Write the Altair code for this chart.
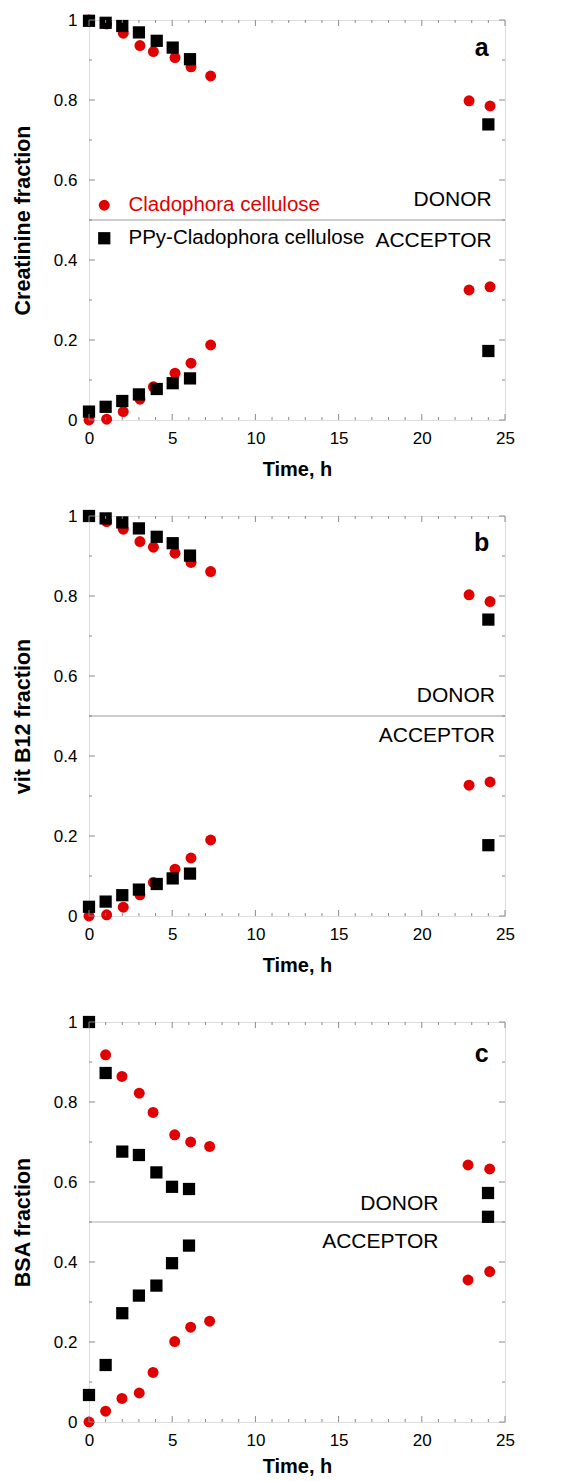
import altair as alt
import pandas as pd

# ---------------- data ----------------
series_names = ["Cladophora cellulose", "PPy-Cladophora cellulose"]
colors = ["#e00000", "#000000"]
shapes = ["circle", "square"]

# Panel a: Creatinine
a_t_red = [0, 1.06, 2.06, 3.06, 3.87, 5.17, 6.13, 7.31, 22.84, 24.1]
a_donor_red = [1.0, 0.99, 0.967, 0.936, 0.921, 0.906, 0.883, 0.86, 0.798, 0.785]
a_acc_red = [0.0, 0.002, 0.021, 0.052, 0.083, 0.117, 0.142, 0.1875, 0.325, 0.333]
a_t_blk = [0, 1, 2, 3, 4.07, 5.03, 6.07, 24.0]
a_donor_blk = [0.998, 0.993, 0.985, 0.969, 0.948, 0.931, 0.902, 0.739]
a_acc_blk = [0.021, 0.033, 0.0475, 0.064, 0.0775, 0.092, 0.104, 0.1725]

# Panel b: vit B12
b_t_red = [0, 1.06, 2.06, 3.06, 3.87, 5.17, 6.13, 7.31, 22.84, 24.1]
b_donor_red = [1.0, 0.986, 0.967, 0.936, 0.922, 0.907, 0.884, 0.861, 0.803, 0.786]
b_acc_red = [0.0, 0.003, 0.022, 0.053, 0.084, 0.117, 0.145, 0.19, 0.327, 0.335]
b_t_blk = [0, 1, 2, 3, 4.07, 5.03, 6.07, 24.0]
b_donor_blk = [1.0, 0.994, 0.984, 0.969, 0.948, 0.932, 0.901, 0.741]
b_acc_blk = [0.023, 0.036, 0.052, 0.066, 0.08, 0.094, 0.106, 0.177]

# Panel c: BSA
c_t_red = [0, 1.0, 1.98, 3.02, 3.85, 5.15, 6.11, 7.25, 22.78, 24.08]
c_donor_red = [1.0, 0.918, 0.864, 0.822, 0.774, 0.718, 0.70, 0.689, 0.6425, 0.6325]
c_acc_red = [0.0, 0.027, 0.059, 0.0725, 0.124, 0.201, 0.237, 0.252, 0.355, 0.376]
c_t_blk = [0, 1, 2, 3, 4.05, 4.99, 6.01, 23.98]
c_donor_blk = [1.0, 0.8725, 0.676, 0.6675, 0.624, 0.588, 0.5825, 0.5725]
c_acc_blk = [0.0675, 0.1425, 0.272, 0.316, 0.341, 0.397, 0.441, 0.513]

y_titles = ["Creatinine fraction", "vit B12 fraction", "BSA fraction"]
panel_letters = ["a", "b", "c"]
x_title = "Time, h"

x_major = [0, 5, 10, 15, 20, 25]
x_minor = [v for v in range(1, 25) if v % 5 != 0]
y_major = [0, 0.2, 0.4, 0.6, 0.8, 1]
y_minor = [0.1, 0.3, 0.5, 0.7, 0.9]
boundary = [0.5]

zone_labels = ["DONOR", "ACCEPTOR"]
# annotation anchors in data coordinates (time, fraction)
zone_t = [24.2, 24.4, 21.0]
zone_y_donor = [0.55, 0.549, 0.545]
zone_y_acc = [0.448, 0.449, 0.45]
letter_t = [23.6, 23.6, 23.6]
letter_y = [0.93, 0.933, 0.92]

FONT = "Liberation Sans"
W, H = 416, 400
FRAME = "#8a8a8a"
X_TITLE_PAD = [13, 13, 8]


def make_df(t_red, d_red, a_red, t_blk, d_blk, a_blk):
    rows = []
    for t, v in zip(t_red, d_red):
        rows.append({"t": t, "y": v, "series": series_names[0], "o": 0})
    for t, v in zip(t_red, a_red):
        rows.append({"t": t, "y": v, "series": series_names[0], "o": 0})
    for t, v in zip(t_blk, d_blk):
        rows.append({"t": t, "y": v, "series": series_names[1], "o": 1})
    for t, v in zip(t_blk, a_blk):
        rows.append({"t": t, "y": v, "series": series_names[1], "o": 1})
    return pd.DataFrame(rows)


xs = alt.Scale(domain=[0, 25], nice=False, zero=False)
ys = alt.Scale(domain=[0, 1], nice=False, zero=False)


def x_axis(i):
    return alt.Axis(values=x_major, format="d", grid=False, ticks=False, tickSize=0,
                    domain=False, labelFlush=False, labelFont=FONT, labelFontSize=17,
                    labelColor="#000", labelPadding=10, titleFont=FONT, titleFontSize=20,
                    titleFontWeight="bold", titleColor="#000", titlePadding=X_TITLE_PAD[i])


def y_axis():
    return alt.Axis(values=y_major, format="~g", grid=False, ticks=False, tickSize=0,
                    domain=False, labelFlush=False, labelFont=FONT, labelFontSize=17,
                    labelColor="#000", labelPadding=12, titleFont=FONT, titleFontSize=21.5,
                    titleFontWeight="bold", titleColor="#000", titlePadding=19)


def X(field, i):
    return alt.X(field, type="quantitative", scale=xs, title=x_title, axis=x_axis(i))


def Y(field, i):
    return alt.Y(field, type="quantitative", scale=ys, title=y_titles[i], axis=y_axis())


def tick_layers(i):
    layers = []
    for vals, ln in ((x_major, 6), (x_minor, 3)):
        d = pd.DataFrame({"t": vals})
        layers.append(alt.Chart(d).mark_rule(color=FRAME, strokeWidth=1).encode(
            x=X("t", i), y=alt.value(H), y2=alt.value(H - ln)))
        layers.append(alt.Chart(d).mark_rule(color=FRAME, strokeWidth=1).encode(
            x=X("t", i), y=alt.value(0), y2=alt.value(ln)))
    for vals, ln in ((y_major, 6), (y_minor, 3)):
        d = pd.DataFrame({"v": vals})
        layers.append(alt.Chart(d).mark_rule(color=FRAME, strokeWidth=1).encode(
            y=Y("v", i), x=alt.value(0), x2=alt.value(ln)))
        layers.append(alt.Chart(d).mark_rule(color=FRAME, strokeWidth=1).encode(
            y=Y("v", i), x=alt.value(W), x2=alt.value(W - ln)))
    return layers


def panel(i, df, show_legend, line_color, line_width, zone_align):
    if show_legend:
        leg = alt.Legend(
            orient="none", legendX=5, legendY=175, title=None,
            labelFont=FONT, labelFontSize=20.5, labelLimit=400,
            labelColor=alt.ExprRef("datum.label == 'Cladophora cellulose' ? '#e00000' : '#000000'"),
            symbolSize=130, symbolStrokeWidth=0, rowPadding=12, labelOffset=14, padding=0,
        )
    else:
        leg = None

    line = alt.Chart(pd.DataFrame({"v": boundary})).mark_rule(
        color=line_color, strokeWidth=line_width).encode(y=Y("v", i))

    pts = alt.Chart(df).mark_point(filled=True, opacity=1).encode(
        x=X("t", i),
        y=Y("y", i),
        color=alt.Color("series:N", scale=alt.Scale(domain=series_names, range=colors), legend=leg),
        shape=alt.Shape("series:N", scale=alt.Scale(domain=series_names, range=shapes), legend=leg),
        size=alt.Size("series:N", scale=alt.Scale(domain=series_names, range=[120, 150]), legend=None),
        order=alt.Order("o:Q"),
    )

    zones = pd.DataFrame({
        "t": [zone_t[i], zone_t[i]],
        "y": [zone_y_donor[i], zone_y_acc[i]],
        "label": zone_labels,
    })
    ztext = alt.Chart(zones).mark_text(
        font=FONT, fontSize=21, align=zone_align, baseline="middle", color="#000").encode(
        x=X("t", i), y=Y("y", i), text="label:N")

    let = pd.DataFrame({"t": [letter_t[i]], "y": [letter_y[i]], "label": [panel_letters[i]]})
    ltext = alt.Chart(let).mark_text(
        font=FONT, fontSize=25, fontWeight="bold", align="center", baseline="middle",
        color="#000").encode(x=X("t", i), y=Y("y", i), text="label:N")

    return alt.layer(line, pts, ztext, ltext, *tick_layers(i)).properties(width=W, height=H)


pa = panel(0, make_df(a_t_red, a_donor_red, a_acc_red, a_t_blk, a_donor_blk, a_acc_blk),
           True, "#9a9a9a", 1, "right")
pb = panel(1, make_df(b_t_red, b_donor_red, b_acc_red, b_t_blk, b_donor_blk, b_acc_blk),
           False, "#9a9a9a", 1, "right")
pc = panel(2, make_df(c_t_red, c_donor_red, c_acc_red, c_t_blk, c_donor_blk, c_acc_blk),
           False, "#c8c8c8", 1.5, "right")

top = alt.vconcat(pa, pb, spacing=26).resolve_scale(color="independent", shape="independent", size="independent")
chart = alt.vconcat(top, pc, spacing=36).resolve_scale(
    color="independent", shape="independent", size="independent"
).properties(
    padding={"left": 3, "top": 2, "right": 5, "bottom": 0}
).configure_view(stroke=FRAME, strokeWidth=1).configure(background="white")

chart.save("out.html", embed_options={"renderer": "svg", "actions": False})
